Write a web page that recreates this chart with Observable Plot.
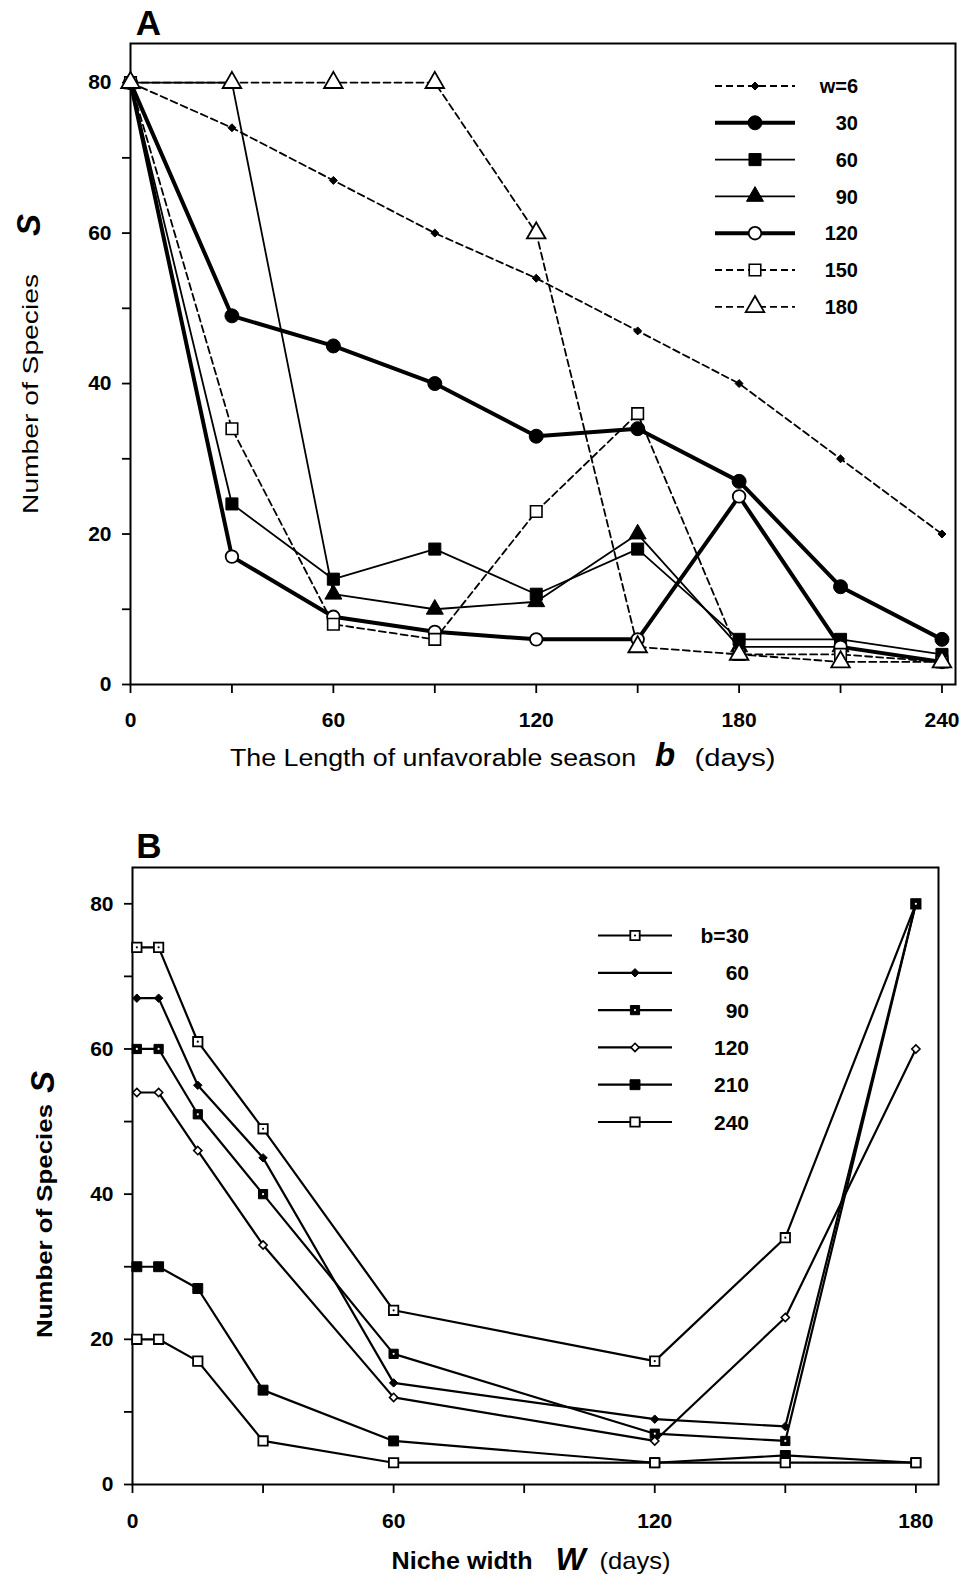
<!DOCTYPE html>
<html><head><meta charset="utf-8">
<script src="https://cdn.jsdelivr.net/npm/d3@7"></script>
<script src="https://cdn.jsdelivr.net/npm/@observablehq/plot@0.6"></script>
<style>body{margin:0;background:#fff}#chart svg{display:block}</style>
</head><body><div id="chart"></div><script>
// ---------- Panel A data ----------
const bDays = [0, 30, 60, 90, 120, 150, 180, 210, 240];
const seriesA = ["w=6", "30", "60", "90", "120", "150", "180"];
const w6   = [80, 74, 67, 60, 54, 47, 40, 30, 20];
const w30  = [80, 49, 45, 40, 33, 34, 27, 13, 6];
const w60  = [80, 24, 14, 18, 12, 18, 6, 6, 4];
const w90  = [80, 80, 12, 10, 11, 20, 5, 5, 3];
const w120 = [80, 17, 9, 7, 6, 6, 25, 5, 3];
const w150 = [80, 34, 8, 6, 23, 36, 4, 4, 3];
const w180 = [80, 80, 80, 80, 60, 5, 4, 3, 3];
const xTicksA = [0, 30, 60, 90, 120, 150, 180, 210, 240];
const xLabelsA = [0, 60, 120, 180, 240];

// ---------- Panel B data ----------
const wDays = [1, 6, 15, 30, 60, 120, 150, 180];
const seriesB = ["b=30", "60", "90", "120", "210", "240"];
const b30  = [74, 74, 61, 49, 24, 17, 34, 80];
const b60  = [67, 67, 55, 45, 14, 9, 8, 80];
const b90  = [60, 60, 51, 40, 18, 7, 6, 80];
const b120 = [54, 54, 46, 33, 12, 6, 23, 60];
const b210 = [30, 30, 27, 13, 6, 3, 4, 3];
const b240 = [20, 20, 17, 6, 3, 3, 3, 3];
const xTicksB = [0, 30, 60, 90, 120, 150, 180];
const xLabelsB = [0, 60, 120, 180];

const yTicks = [0, 10, 20, 30, 40, 50, 60, 70, 80];
const yLabels = [0, 20, 40, 60, 80];

// ---------- styles ----------
const FONT = "'Liberation Sans', Arial, Helvetica, sans-serif";
const DASH = "7,4";
const styleA = [
  {dash: DASH, sw: 1.8, symbol: "diamond2", r: 3.6, fill: "black", msw: 1},
  {dash: null, sw: 4,   symbol: "circle",   r: 7,   fill: "black", msw: 1},
  {dash: null, sw: 1.8, symbol: "square",   r: 6.8, fill: "black", msw: 1},
  {dash: null, sw: 1.8, symbol: "triangle", r: 6.3, fill: "black", msw: 1},
  {dash: null, sw: 4,   symbol: "circle",   r: 6.3, fill: "white", msw: 1.8},
  {dash: DASH, sw: 1.8, symbol: "square",   r: 6.5, fill: "white", msw: 1.6},
  {dash: DASH, sw: 1.8, symbol: "triangle", r: 6.9, fill: "white", msw: 1.8}
];
const styleB = [
  {dash: null, sw: 2.2, symbol: "square",   r: 5.3, fill: "white", msw: 1.8, dot: "black"},
  {dash: null, sw: 2.2, symbol: "diamond2", r: 3.8, fill: "black", msw: 1},
  {dash: null, sw: 2.2, symbol: "square",   r: 5.2, fill: "black", msw: 1, dot: "white"},
  {dash: null, sw: 2.2, symbol: "diamond2", r: 3.7, fill: "white", msw: 1.6},
  {dash: null, sw: 2.2, symbol: "square",   r: 5.6, fill: "black", msw: 1},
  {dash: null, sw: 2.2, symbol: "square",   r: 5.3, fill: "white", msw: 1.8}
];
const symbolMap = {circle: d3.symbolCircle, square: d3.symbolSquare, triangle: d3.symbolTriangle, diamond2: d3.symbolDiamond2};

function seriesMarks(xs, valueSets, styles) {
  const tables = valueSets.map(vals => xs.map((x, j) => ({x, S: vals[j]})));
  const lines = tables.map((rows, i) => Plot.line(rows, {
    x: "x", y: "S", stroke: "black", strokeWidth: styles[i].sw,
    strokeDasharray: styles[i].dash || undefined, strokeLinejoin: "round"
  }));
  const dots = [];
  tables.forEach((rows, i) => {
    const s = styles[i];
    dots.push(Plot.dot(rows, {x: "x", y: "S", symbol: s.symbol, r: s.r, fill: s.fill, stroke: "black", strokeWidth: s.msw}));
    if (s.dot) dots.push(Plot.dot(rows, {x: "x", y: "S", r: 1.1, fill: s.dot, stroke: "none"}));
  });
  return [...lines, ...dots];
}

function legend(labels, styles, o) {
  return () => {
    const g = d3.create("svg:g").attr("font-family", FONT).attr("font-weight", "bold").attr("font-size", o.fontSize);
    labels.forEach((lab, i) => {
      const y = o.y0 + i * o.dy, s = styles[i];
      g.append("line").attr("x1", o.x1).attr("x2", o.x2).attr("y1", y).attr("y2", y)
        .attr("stroke", "black").attr("stroke-width", s.sw).attr("stroke-dasharray", s.dash);
      g.append("path").attr("transform", `translate(${o.xm},${y})`)
        .attr("d", d3.symbol(symbolMap[s.symbol], Math.PI * s.r * s.r)())
        .attr("fill", s.fill).attr("stroke", "black").attr("stroke-width", s.msw);
      if (s.dot) g.append("circle").attr("cx", o.xm).attr("cy", y).attr("r", 1.1).attr("fill", s.dot);
      g.append("text").attr("x", o.xt).attr("y", y).attr("dy", "0.36em").attr("text-anchor", "end").text(lab);
    });
    return g.node();
  };
}

function txt(s, opts) {
  return Plot.text([s], {text: d => d, lineAnchor: "middle", textAnchor: "middle", fill: "black", ...opts});
}
function tagged(s, tag, opts) {
  return txt(s, {...opts, ariaLabel: () => tag});
}
function stretch(svg, tag, len) {
  svg.querySelectorAll(`[aria-label="${tag}"]`).forEach(el => {
    const ts = el.tagName.toLowerCase() === "text" ? [el] : el.querySelectorAll("text");
    ts.forEach(t => {
      t.setAttribute("textLength", len);
      t.setAttribute("lengthAdjust", "spacingAndGlyphs");
    });
  });
}

// ---------- Panel A ----------
const plotA = Plot.plot({
  width: 967, height: 800,
  marginLeft: 130, marginRight: 12, marginTop: 43, marginBottom: 116,
  style: {fontFamily: FONT, background: "white", color: "black", overflow: "visible"},
  x: {domain: [0, 244], axis: null, label: null},
  y: {domain: [0, 85.2], axis: null, label: null},
  marks: [
    Plot.frame({stroke: "black", strokeWidth: 2}),
    Plot.axisY({ticks: yTicks, tickSize: 8, tickPadding: 11, tickFormat: d => yLabels.includes(d) ? d : "",
      fontSize: 21, fontWeight: "bold", strokeWidth: 1.8, label: null}),
    Plot.axisX({ticks: xTicksA, tickSize: 9, tickPadding: 19, tickFormat: d => xLabelsA.includes(d) ? d : "",
      fontSize: 21, fontWeight: "bold", strokeWidth: 1.8, label: null}),
    ...seriesMarks(bDays, [w6, w30, w60, w90, w120, w150, w180], styleA),
    legend(seriesA, styleA, {x1: 715, x2: 795, xm: 755, xt: 858, y0: 86, dy: 36.8, fontSize: 20}),
    txt("A", {frameAnchor: "top-left", dx: 18, dy: -20, fontSize: 35, fontWeight: "bold"}),
    tagged("The Length of unfavorable season", "xtA1", {frameAnchor: "bottom", dx: -110, dy: 74, fontSize: 23}),
    txt("b", {frameAnchor: "bottom", dx: 122, dy: 71, fontSize: 33, fontWeight: "bold", fontStyle: "italic"}),
    tagged("(days)", "xtA2", {frameAnchor: "bottom", dx: 192, dy: 74, fontSize: 23}),
    tagged("Number of Species", "ytA", {frameAnchor: "left", dx: -100, dy: 30, rotate: -90, fontSize: 22}),
    txt("S", {frameAnchor: "left", dx: -101, dy: -139, rotate: -90, fontSize: 33, fontWeight: "bold", fontStyle: "italic"})
  ]
});
stretch(plotA, "xtA1", 406);
stretch(plotA, "xtA2", 81);
stretch(plotA, "ytA", 240);

// ---------- Panel B ----------
const plotB = Plot.plot({
  width: 967, height: 781,
  marginLeft: 132, marginRight: 29, marginTop: 67, marginBottom: 97,
  style: {fontFamily: FONT, background: "white", color: "black", overflow: "visible"},
  x: {domain: [0, 185.2], axis: null, label: null},
  y: {domain: [0, 85], axis: null, label: null},
  marks: [
    Plot.frame({stroke: "black", strokeWidth: 2}),
    Plot.axisY({ticks: yTicks, tickSize: 8, tickPadding: 11, tickFormat: d => yLabels.includes(d) ? d : "",
      fontSize: 21, fontWeight: "bold", strokeWidth: 1.8, label: null}),
    Plot.axisX({ticks: xTicksB, tickSize: 9, tickPadding: 20, tickFormat: d => xLabelsB.includes(d) ? d : "",
      fontSize: 21, fontWeight: "bold", strokeWidth: 1.8, label: null}),
    ...seriesMarks(wDays, [b30, b60, b90, b120, b210, b240], styleB),
    legend(seriesB, styleB, {x1: 598, x2: 672, xm: 635, xt: 749, y0: 135.5, dy: 37.3, fontSize: 21}),
    txt("B", {frameAnchor: "top-left", dx: 16.5, dy: -21, fontSize: 35, fontWeight: "bold"}),
    tagged("Niche width", "xtB1", {frameAnchor: "bottom", dx: -73.5, dy: 77, fontSize: 24, fontWeight: "bold"}),
    txt("W", {frameAnchor: "bottom", dx: 35, dy: 75, fontSize: 32, fontWeight: "bold", fontStyle: "italic"}),
    tagged("(days)", "xtB2", {frameAnchor: "bottom", dx: 99.5, dy: 77, fontSize: 24}),
    tagged("Number of Species", "ytB", {frameAnchor: "left", dx: -88, dy: 45, rotate: -90, fontSize: 22, fontWeight: "bold"}),
    txt("S", {frameAnchor: "left", dx: -89, dy: -94, rotate: -90, fontSize: 33, fontWeight: "bold", fontStyle: "italic"})
  ]
});
stretch(plotB, "xtB1", 141);
stretch(plotB, "xtB2", 71);
stretch(plotB, "ytB", 234);

document.getElementById("chart").append(plotA, plotB);
</script></body></html>
